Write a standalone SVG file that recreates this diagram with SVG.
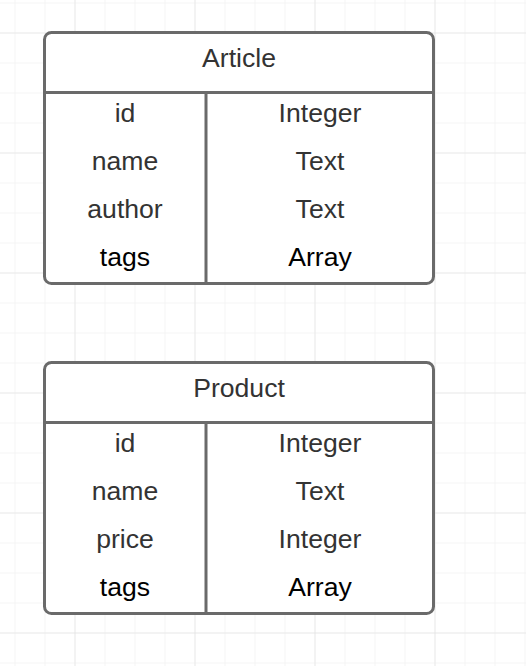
<svg xmlns="http://www.w3.org/2000/svg" width="526" height="666" viewBox="0 0 526 666">
<defs>
<pattern id="minor" x="14.5" y="2.5" width="30" height="30" patternUnits="userSpaceOnUse">
<path d="M0 0V30M0 0H30" fill="none" stroke="#ececec" stroke-width="1"/>
</pattern>
<pattern id="major" x="74.5" y="32.5" width="120" height="120" patternUnits="userSpaceOnUse">
<path d="M0 0V120M0 0H120" fill="none" stroke="#dedede" stroke-width="1"/>
</pattern>
</defs>
<style>
.box{fill:#fff;stroke:#6a6a6a;stroke-width:3}
.ln{stroke:#6a6a6a;stroke-width:3;fill:none}
text{font-family:"Liberation Sans",Arial,sans-serif;font-size:26.6px;text-anchor:middle;fill:#333}
.k{fill:#000}
</style>
<rect width="526" height="666" fill="#fff"/>
<rect width="526" height="666" fill="url(#minor)"/>
<rect width="526" height="666" fill="url(#major)"/>
<g id="article">
<rect class="box" x="44.5" y="32.5" width="389" height="251" rx="7"/>
<path class="ln" d="M44.5 92.5H433.5M206 92.5V283.5"/>
<text x="239" y="67">Article</text>
<text x="125" y="121.5">id</text><text x="320" y="121.5">Integer</text>
<text x="125" y="169.5">name</text><text x="320" y="169.5">Text</text>
<text x="125" y="217.5">author</text><text x="320" y="217.5">Text</text>
<text class="k" x="125" y="265.5">tags</text><text class="k" x="320" y="265.5">Array</text>
</g>
<g id="product">
<rect class="box" x="44.5" y="362.5" width="389" height="251" rx="7"/>
<path class="ln" d="M44.5 422.5H433.5M206 422.5V613.5"/>
<text x="239" y="397">Product</text>
<text x="125" y="451.5">id</text><text x="320" y="451.5">Integer</text>
<text x="125" y="499.5">name</text><text x="320" y="499.5">Text</text>
<text x="125" y="547.5">price</text><text x="320" y="547.5">Integer</text>
<text class="k" x="125" y="595.5">tags</text><text class="k" x="320" y="595.5">Array</text>
</g>
<g id="connectors"/>
</svg>
